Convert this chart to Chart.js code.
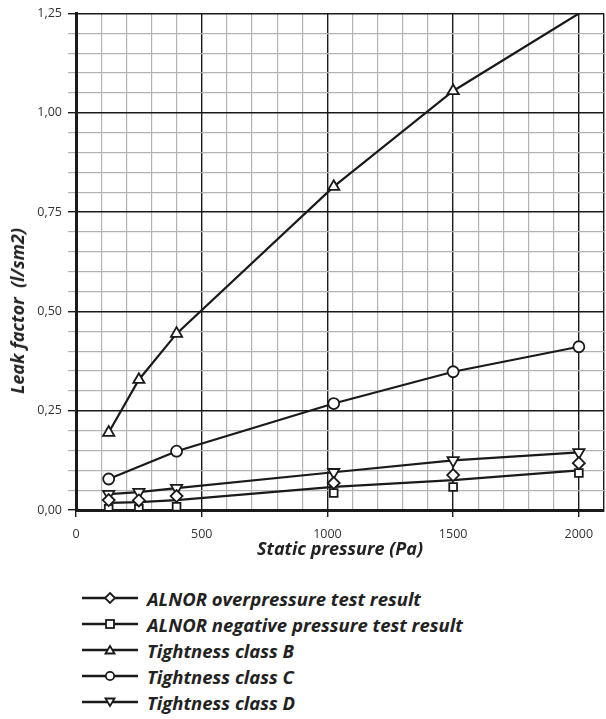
<!DOCTYPE html>
<html>
<head>
<meta charset="utf-8">
<script src="https://cdn.jsdelivr.net/npm/chart.js@4"></script>
<style>
  body { margin: 0; background: #fff; }
  #wrap { position: relative; width: 606px; height: 719px; overflow: hidden; }
  #chart-box { position: absolute; left: 0; top: 0; width: 614px; height: 572px; }
  #y-title {
    position: absolute; left: 17px; top: 311px;
    transform: translate(-50%, -50%) rotate(-90deg);
    white-space: pre; font: italic bold 18px 'Open Sans', sans-serif; color: #222;
  }
  #legend { position: absolute; left: 82px; top: 585px; }
  .item {
    height: 26px; display: flex; align-items: center;
    font: italic bold 18.5px 'Open Sans', sans-serif; color: #222;
  }
  .item svg { margin-right: 9px; }
</style>
</head>
<body>
<div id="wrap">
  <div id="chart-box"><canvas id="leakChart"></canvas></div>
  <div id="y-title">Leak factor  (l/sm2)</div>
  <div id="legend"></div>
</div>
<script>
document.addEventListener('DOMContentLoaded', () => {
  // Data
  const pressure = [130, 250, 400, 1025, 1500, 2000];
  const alnorOver = [0.025, 0.024, 0.035, 0.068, 0.088, 0.118];
  const alnorNeg = [0.003, 0.003, 0.008, 0.043, 0.058, 0.093];
  const alnorLine = [0.018, 0.020, 0.025, 0.058, 0.075, 0.100];
  const classB = [0.195, 0.328, 0.444, 0.814, 1.055, 1.25];
  const classC = [0.078, null, 0.148, 0.268, 0.348, 0.411];
  const classD = [0.040, 0.045, 0.055, 0.095, 0.125, 0.145];

  const xTicks = [0, 500, 1000, 1500, 2000];
  const yTicks = [0, 0.25, 0.5, 0.75, 1.0, 1.25];

  const legendItems = [
    { label: 'ALNOR overpressure test result', marker: 'diamond' },
    { label: 'ALNOR negative pressure test result', marker: 'square' },
    { label: 'Tightness class B', marker: 'up' },
    { label: 'Tightness class C', marker: 'circle' },
    { label: 'Tightness class D', marker: 'down' }
  ];

  const INK = '#1a1a1a';
  const MINOR = '#b3b3b3';

  const pts = (vals) => pressure.map((x, i) => ({ x, y: vals[i] }));

  const isMajorY = v => yTicks.some(t => Math.abs(t - v) < 1e-6);
  const isMajorX = v => xTicks.includes(Math.round(v)) || Math.round(v) === 2100;

  const base = {
    borderColor: INK,
    borderWidth: 2.2,
    pointBackgroundColor: '#fff',
    pointBorderColor: INK,
    pointBorderWidth: 1.8,
    pointRadius: 5.5,
    spanGaps: true,
    tension: 0
  };

  const datasets = [
    { ...base, label: 'ALNOR overpressure', data: pts(alnorOver), showLine: false, pointStyle: 'rectRot', pointRadius: 6 },
    { ...base, label: 'ALNOR negative', data: pts(alnorNeg), showLine: false, pointStyle: 'rect', pointRadius: 5.5 },
    { ...base, label: 'ALNOR', data: pts(alnorLine), pointRadius: 0 },
    { ...base, label: 'Class B', data: pts(classB), pointStyle: 'triangle', pointRadius: [6.5, 6.5, 6.5, 6.5, 6.5, 0] },
    { ...base, label: 'Class C', data: pts(classC), pointStyle: 'circle', pointRadius: 5.5 },
    { ...base, label: 'Class D', data: pts(classD), pointStyle: 'triangle', pointRotation: 180, pointRadius: 6.5 }
  ];

  new Chart(document.getElementById('leakChart').getContext('2d'), {
    type: 'line',
    data: { datasets },
    options: {
      responsive: true,
      maintainAspectRatio: false,
      animation: false,
      layout: { padding: { top: 11, right: 1, left: 0, bottom: 0 } },
      plugins: { legend: { display: false }, tooltip: { enabled: false } },
      scales: {
        x: {
          type: 'linear',
          min: 0,
          max: 2100,
          afterFit: axis => { axis.height = 62; },
          border: { color: INK, width: 3 },
          grid: {
            color: ctx => isMajorX(ctx.tick.value) ? INK : MINOR,
            lineWidth: ctx => isMajorX(ctx.tick.value) ? 1.4 : 1.2,
            tickColor: ctx => xTicks.includes(Math.round(ctx.tick.value)) ? INK : 'rgba(0,0,0,0)',
            tickLength: 7
          },
          ticks: {
            stepSize: 100,
            autoSkip: false,
            maxRotation: 0,
            padding: 10,
            color: '#333',
            font: { family: "'Open Sans', sans-serif", size: 12.5 },
            callback: v => xTicks.includes(Math.round(v)) ? String(Math.round(v)) : ''
          },
          title: {
            display: true,
            text: 'Static pressure (Pa)',
            color: '#222',
            padding: { top: 0, bottom: 11 },
            font: { family: "'Open Sans', sans-serif", size: 18, weight: 'bold', style: 'italic' }
          }
        },
        y: {
          min: 0,
          max: 1.25,
          afterFit: axis => { axis.width = 76; },
          border: { color: INK, width: 3 },
          grid: {
            color: ctx => isMajorY(ctx.tick.value) ? INK : MINOR,
            lineWidth: ctx => isMajorY(ctx.tick.value) ? 1.4 : 1.2,
            tickLength: 8
          },
          ticks: {
            stepSize: 0.05,
            autoSkip: false,
            padding: 6,
            color: '#333',
            font: { family: "'Open Sans', sans-serif", size: 12.5 },
            callback: v => isMajorY(v) ? v.toFixed(2).replace('.', ',') : ''
          }
        }
      }
    }
  });

  // Legend: line with marker in the middle, like the reference
  function markerSvg(kind) {
    const s = 'fill="#fff" stroke="#1a1a1a" stroke-width="1.8"';
    switch (kind) {
      case 'diamond': return `<polygon points="28,2 33,7 28,12 23,7" ${s}/>`;
      case 'square': return `<rect x="24" y="3" width="8" height="8" ${s}/>`;
      case 'up': return `<polygon points="28,3 32.5,10.5 23.5,10.5" ${s}/>`;
      case 'circle': return `<circle cx="28" cy="7" r="4.2" ${s}/>`;
      case 'down': return `<polygon points="23.5,3.5 32.5,3.5 28,11" ${s}/>`;
    }
    return '';
  }

  const legend = document.getElementById('legend');
  legendItems.forEach(item => {
    const div = document.createElement('div');
    div.className = 'item';
    div.innerHTML = `
      <svg width="56" height="14" viewBox="0 0 56 14">
        <line x1="0" y1="7" x2="56" y2="7" stroke="#1a1a1a" stroke-width="2.5"/>
        ${markerSvg(item.marker)}
      </svg>
      <span>${item.label}</span>
    `;
    legend.appendChild(div);
  });
});
</script>
</body>
</html>
